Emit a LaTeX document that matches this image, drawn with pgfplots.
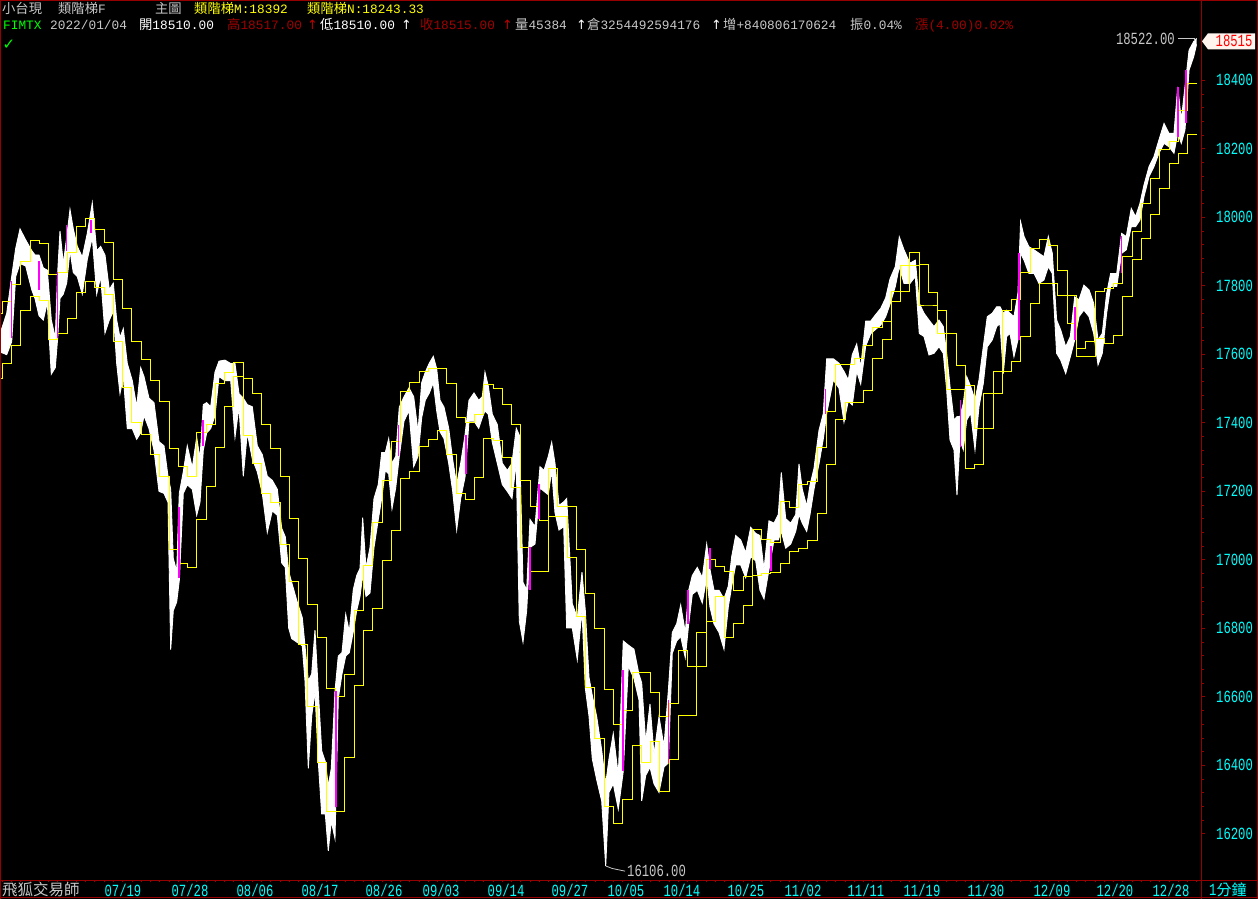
\documentclass[border=0pt]{standalone}
\usepackage{pgfplots}
\pgfplotsset{compat=1.18}
\usepackage{pgfplotstable}
\usepgfplotslibrary{fillbetween}
\usepackage{fontspec}
\newfontfamily\cjk{Noto Sans CJK TC}
\newfontfamily\mono{Liberation Mono}
\newfontfamily\tallmono[FakeStretch=0.72]{Liberation Mono}
\newfontfamily\dejavu{DejaVu Sans}
\definecolor{framered}{RGB}{150,0,0}
\definecolor{cyanlbl}{RGB}{0,255,255}
\definecolor{darkred}{RGB}{160,0,0}
\definecolor{arrowred}{RGB}{190,0,0}
\definecolor{silver}{RGB}{200,200,200}
\definecolor{mag}{RGB}{255,0,255}
\definecolor{ylw}{RGB}{255,255,0}
\definecolor{grn}{RGB}{0,255,0}
\definecolor{tagfill}{RGB}{255,244,238}
\pagecolor{black}
\newcommand{\m}{\fontsize{12.8bp}{14bp}\selectfont\mono}
\newcommand{\cf}{\fontsize{13.3bp}{14bp}\selectfont\cjk}
\newcommand{\tf}{\fontsize{17bp}{18bp}\selectfont\tallmono}
\newcommand{\ar}{\fontsize{12.8bp}{14bp}\selectfont\dejavu ↑}
\newcommand{\hd}[4]{\node[anchor=base west, inner sep=0pt, text=#3] at (#1,#2) {#4};}

\pgfplotstableread{
px hi lo
0 17665 17605
1.7 17675 17605
6.7 17719 17599
11.7 17827 17637
15.7 17909 17827
20 17966 17865
25.7 17934 17858
31.7 17903 17789
35 17890 17763
39 17890 17713
43.3 17852 17700
47.3 17846 17751
51.3 17700 17542
55.3 17649 17561
57.7 17839 17649
60 17960 17763
63.3 17865 17776
66.7 17941 17808
70 18023 17903
73.3 17966 17839
77.3 17915 17827
82.3 17884 17776
87.3 17953 17877
92.3 18042 17941
96.7 17903 17776
100.7 17915 17827
105 17890 17662
109.3 17789 17700
113.3 17808 17725
116.7 17700 17573
120 17649 17485
123.3 17675 17535
127.3 17573 17383
132.3 17523 17383
136.7 17447 17352
140.7 17561 17371
144 17535 17421
149 17472 17383
154 17459 17320
159 17345 17200
164 17333 17194
168 17244 17168
170.7 17206 16738
173.3 17004 16852
176.7 16966 16877
179.3 17194 16940
183.3 17257 17194
187.3 17333 17219
192.3 17269 17206
196.7 17358 17130
200 17295 17168
203.3 17453 17320
206.7 17459 17371
210.7 17447 17383
215 17548 17421
219 17580 17535
225 17583 17523
230.7 17573 17523
235 17573 17358
239 17485 17447
243.3 17472 17244
247.3 17453 17371
252.3 17447 17295
257.3 17333 17257
262.3 17307 17194
267.3 17244 17080
272.3 17232 17143
277.3 17206 17130
281.7 17092 16991
285.3 17067 16978
288.7 16966 16801
291.7 16934 16770
296.7 16882 16760
302.3 16831 16749
305 16749 16647
308.3 16647 16391
311.7 16667 16544
315 16795 16616
318.3 16616 16411
321.7 16442 16258
325.3 16411 16258
328.3 16340 16150
331.3 16391 16237
335 16616 16186
338.3 16719 16596
342 16729 16667
345.7 16841 16719
349.3 16790 16729
353.3 16913 16790
356.7 16954 16852
360 16975 16893
362.7 17123 16954
366 16975 16893
370 17036 16903
374 17179 17036
378.3 17220 17118
381.7 17313 17179
385.3 17313 17261
388.7 17354 17251
392 17282 17149
395.7 17302 17210
399.3 17446 17302
404 17476 17405
409 17502 17435
413.7 17476 17272
418 17374 17302
421.7 17517 17415
425.3 17548 17466
429.3 17574 17487
433.3 17594 17517
436.7 17558 17435
440 17466 17374
444 17446 17354
448.7 17384 17282
452.7 17292 17200
456.7 17220 17087
460.7 17282 17179
465 17364 17241
469 17466 17405
474 17487 17405
478.7 17466 17384
482.3 17476 17415
485 17548 17435
488.3 17507 17425
492.3 17425 17343
497.3 17395 17282
502.3 17282 17220
507.3 17261 17200
512 17282 17179
516.3 17384 17282
519.3 17364 16821
523 16934 16760
526.7 16913 16852
530 17118 17036
535 17097 17046
540 17272 17210
544 17261 17200
548.3 17302 17190
551.7 17343 17261
555 17282 17138
559 17159 17087
563.7 17169 17097
566.7 17179 16801
572.3 16872 16801
577.3 16831 16708
582 16964 16852
585.3 16852 16626
589 16657 16544
592.3 16604 16419
596.7 16542 16358
601.7 16444 16296
605.7 16346 16106
609 16419 16321
613.3 16493 16346
618.3 16370 16272
623.3 16763 16383
628.3 16751 16690
634 16739 16653
639 16665 16591
641.7 16641 16296
645.7 16468 16370
650 16579 16395
654 16432 16346
659 16542 16321
664 16456 16395
668.3 16616 16407
672.3 16788 16727
676.7 16813 16763
680.7 16868 16776
685.3 16788 16714
688.7 16911 16813
692.3 16954 16899
697.3 16978 16911
702.3 16948 16874
706.7 17046 16948
710 16972 16862
714 16911 16813
719 16911 16788
724 16886 16739
728.3 16923 16862
731.7 17009 16923
735.7 17071 16985
740.7 17058 16985
745.7 17021 16948
750.7 17095 17009
755.7 17077 16997
760 17071 16911
764 16972 16886
769 17114 16972
774 17107 17058
778.3 17132 17058
781.3 17255 17083
785.7 17120 17034
790.7 17107 17046
795.7 17132 17083
799 17280 17132
802.3 17206 17107
806.7 17157 17083
810 17218 17132
814 17267 17206
819 17378 17280
823.3 17427 17353
826.7 17587 17427
833.3 17587 17525
839 17574 17501
844 17550 17402
848.3 17525 17464
852.3 17599 17452
856.7 17630 17550
860.7 17562 17513
865.7 17697 17624
870.7 17697 17660
875.7 17716 17673
880.7 17734 17685
885.7 17765 17710
890 17820 17746
895.3 17856 17798
899.3 17943 17856
904 17905 17807
910 17866 17807
915.3 17875 17827
919.3 17749 17661
924 17720 17652
929 17700 17598
934 17681 17603
939 17700 17622
943.3 17681 17603
946.7 17603 17496
950 17506 17350
954 17408 17321
957 17418 17189
960 17418 17350
963.3 17457 17321
966.7 17535 17408
970.7 17506 17428
975 17467 17321
979 17525 17447
983.3 17622 17515
987.3 17710 17622
992.3 17720 17642
996.7 17739 17681
1000 17739 17690
1003.3 17720 17544
1006.7 17729 17652
1010 17720 17661
1014 17710 17593
1018 17778 17642
1020.7 17987 17895
1024 17944 17875
1029 17914 17836
1034 17905 17836
1039 17895 17807
1044 17885 17817
1048.3 17944 17856
1052.3 17895 17836
1056.7 17700 17603
1060.7 17671 17583
1065.7 17622 17544
1070.3 17652 17593
1074.7 17768 17642
1079 17759 17710
1084 17802 17729
1089 17788 17710
1093.7 17749 17661
1098 17642 17569
1102.3 17661 17603
1106.7 17778 17720
1110.7 17836 17798
1116.7 17836 17798
1121.7 17953 17895
1126.3 17944 17905
1131.3 18026 17973
1135.7 18002 17973
1140 18041 17992
1144 18094 18060
1149 18148 18119
1154 18177 18148
1159 18226 18187
1164 18274 18216
1169 18245 18206
1174 18245 18187
1177.7 18381 18245
1181.3 18284 18216
1185 18381 18255
1189 18488 18430
1193.7 18513 18469
1196.5 18522 18505
}\band

\pgfplotstableread{
d hi lo
-1 17719 17529
0 17754 17573
1 17804 17627
2 17871 17728
3 17932 17770
4 17924 17756
5 17833 17643
6 17839 17662
7 17896 17706
8 17972 17780
9 17998 17814
10 17966 17795
11 17928 17776
12 17820 17637
13 17735 17504
14 17639 17402
15 17586 17367
16 17523 17307
17 17463 17244
18 17324 17031
19 17274 16988
20 17244 16978
21 17371 17118
22 17396 17214
23 17516 17328
24 17548 17449
25 17576 17535
26 17529 17364
27 17485 17282
28 17395 17194
29 17325 17168
30 17242 17045
31 17121 16937
32 17004 16754
33 16871 16572
34 16774 16409
35 16625 16266
36 16601 16266
37 16665 16422
38 16852 16634
39 16985 16794
40 17110 16859
41 17231 16998
42 17345 17086
43 17492 17238
44 17517 17258
45 17550 17331
46 17560 17351
47 17560 17379
48 17515 17307
49 17417 17195
50 17400 17176
51 17425 17241
52 17512 17355
53 17499 17348
54 17454 17299
55 17395 17212
56 17233 17036
57 17156 16966
58 17115 16966
59 17266 17128
60 17156 17128
61 17156 17007
62 17031 16836
63 16902 16628
64 16800 16478
65 16622 16281
66 16518 16231
67 16561 16299
68 16671 16459
69 16671 16407
70 16614 16469
71 16542 16324
72 16580 16417
73 16736 16545
74 16690 16545
75 16788 16690
76 17000 16821
77 16982 16892
78 16965 16772
79 16911 16815
80 16950 16868
81 17089 16954
82 17060 16960
83 17050 16962
84 17171 16990
85 17153 17025
86 17221 17034
87 17230 17058
88 17329 17136
89 17433 17279
90 17571 17411
91 17571 17460
92 17589 17460
93 17627 17495
94 17679 17587
95 17697 17644
96 17783 17754
97 17858 17783
98 17898 17858
99 17863 17744
100 17781 17744
101 17729 17661
102 17661 17498
103 17568 17498
104 17510 17267
105 17384 17277
106 17486 17384
107 17549 17486
108 17729 17549
109 17759 17579
110 17839 17651
111 17909 17749
112 17936 17807
113 17919 17807
114 17844 17773
115 17773 17690
116 17617 17593
117 17637 17593
118 17783 17647
119 17793 17632
120 17807 17656
121 17887 17770
122 17958 17877
123 18041 17939
124 18114 18007
125 18197 18085
126 18221 18156
127 18313 18187
128 18392 18243
129 18392 18243
}\steps

\pgfplotstableread{
px p
11.7 17649
11.7 17814
11.7 nan
39.3 17789
39.3 17871
39.3 nan
57.7 17649
57.7 17839
57.7 nan
66.7 17903
66.7 17979
66.7 nan
91.3 17953
91.3 17991
91.3 nan
179 16947
179 17155
179 nan
203.3 17333
203.3 17409
203.3 nan
335.7 16278
335.7 16616
335.7 nan
398.7 17302
398.7 17395
398.7 nan
466 17251
466 17364
466 nan
530 16913
530 17036
530 nan
539 17118
539 17220
539 nan
623.3 16383
623.3 16677
623.3 nan
668.7 16407
668.7 16591
668.7 nan
688.3 16813
688.3 16911
688.3 nan
710 16972
710 17034
710 nan
771 16966
771 17040
771 nan
825.7 17427
825.7 17500
825.7 nan
960.7 17330
960.7 17467
960.7 nan
1019 17642
1019 17895
1019 nan
1075 17642
1075 17739
1075 nan
1121.7 17836
1121.7 17944
1121.7 nan
1178 18235
1178 18381
1178 nan
1186.3 18274
1186.3 18430
}\magt

\begin{document}
\begin{tikzpicture}[x=1bp,y=1bp]
\begin{axis}[
  name=ax,
  width=1201bp, height=880bp, scale only axis,
  xmin=-0.248, xmax=129.45, ymin=16065.2, ymax=18634.5,
  axis line style={draw=framered, line width=1bp},
  clip=true,
  ytick={16200,16400,...,18400},
  minor y tick num=4,
  ytick pos=right, yticklabel pos=right,
  xtick pos=bottom,
  xtick={13.03,20.27,27.29,34.31,41.22,47.38,54.4,61.3,67.35,73.4,80.3,86.47,93.27,99.32,106.23,113.36,120.16,126.21},
  xticklabels={07/19,07/28,08/06,08/17,08/26,09/03,09/14,09/27,10/05,10/14,10/25,11/02,11/11,11/19,11/30,12/09,12/20,12/28},
  minor xtick={0,1,...,129},
  major x tick style={draw=none},
  tick style={draw=framered, line width=0.8bp},
  major tick length=4bp, minor tick length=2.5bp,
  tick align=outside,
  scaled y ticks=false,
  /pgf/number format/1000 sep={},
  /pgf/number format/assume math mode=true,
  yticklabel style={font=\tf, text=cyanlbl, anchor=base west, inner sep=0pt, xshift=11bp, yshift=-5.5bp},
  xticklabel style={font=\tf, text=cyanlbl, anchor=base, inner sep=0pt, yshift=-12bp},
]
\addplot[name path=bh, white, line width=0.9bp] table[x expr=(\thisrow{px}-2.3)/9.26, y=hi]{\band};
\addplot[name path=bl, white, line width=0.9bp] table[x expr=(\thisrow{px}-2.3)/9.26, y=lo]{\band};
\addplot[white] fill between[of=bh and bl];
\addplot[ylw, line width=0.9bp, const plot] table[x=d, y=hi]{\steps};
\addplot[ylw, line width=0.9bp, const plot] table[x=d, y=lo]{\steps};
\addplot[mag, line width=1.6bp, unbounded coords=jump] table[x expr=(\thisrow{px}-2.3)/9.26, y=p]{\magt};
\draw[silver, line width=0.8bp] (axis cs:126.97,18522) -- (axis cs:128.75,18522) -- (axis cs:128.75,18515);
\node[anchor=base east, inner sep=0pt, text=silver, font=\tf, yshift=-5.5bp] at (axis cs:126.64,18522) {18522.00};
\draw[silver, line width=0.8bp] (axis cs:65.19,16106) -- (axis cs:65.85,16099) -- (axis cs:67.25,16091);
\node[anchor=base west, inner sep=0pt, text=silver, font=\tf, yshift=-5.5bp] at (axis cs:67.46,16091) {16106.00};
\coordinate (O) at (rel axis cs:0,0);
\end{axis}
\begin{scope}[shift={(O)}, yshift=-19bp]
% frame
\draw[framered, line width=1bp] (0,898.5) -- (1258,898.5);
\draw[framered, line width=1bp] (0.5,0) -- (0.5,899);
\draw[framered, line width=1bp] (1201,0) -- (1201,899);
\draw[framered, line width=1bp] (1257,0) -- (1257,899);
\draw[framered, line width=1bp] (0,19) -- (1258,19);
\draw[framered, line width=1bp] (0,1.5) -- (1258,1.5);
% header line 1
\hd{2}{885.5}{silver}{\cf 小台現}
\hd{58}{885.5}{silver}{\cf 類階梯\m F}
\hd{155}{885.5}{silver}{\cf 主圖}
\hd{194}{885.5}{ylw}{\cf 類階梯\m M:18392}
\hd{307}{885.5}{ylw}{\cf 類階梯\m N:18243.33}
% header line 2
\hd{3}{869.7}{grn}{\m FIMTX}
\hd{50}{869.7}{silver}{\m 2022/01/04}
\hd{139}{869.7}{white}{\cf 開\m 18510.00}
\hd{227}{869.7}{darkred}{\cf 高\m 18517.00}
\hd{307}{869.7}{arrowred}{\ar}
\hd{320}{869.7}{white}{\cf 低\m 18510.00}
\hd{401}{869.7}{white}{\ar}
\hd{420}{869.7}{darkred}{\cf 收\m 18515.00}
\hd{502}{869.7}{arrowred}{\ar}
\hd{515}{869.7}{silver}{\cf 量\m 45384}
\hd{576}{869.7}{white}{\ar}
\hd{587}{869.7}{silver}{\cf 倉\m 3254492594176}
\hd{711}{869.7}{white}{\ar}
\hd{723}{869.7}{silver}{\cf 增\m +840806170624}
\hd{850}{869.7}{silver}{\cf 振\m 0.04\%}
\hd{915}{869.7}{darkred}{\cf 漲\m (4.00)0.02\%}
\node[text=grn, inner sep=0pt, font={\fontsize{15bp}{15bp}\selectfont\dejavu}] at (9,854) {✓};
% price tag
\fill[tagfill] (1202,857.7) -- (1208,865.7) -- (1255,865.7) -- (1255,849.7) -- (1208,849.7) -- cycle;
\node[anchor=base west, inner sep=0pt, text=red, font=\tf] at (1215.5,852) {18515};
% bottom row
\node[anchor=base west, inner sep=0pt, text=silver] at (2,4) {\fontsize{15.5bp}{16bp}\selectfont\cjk 飛狐交易師};
\node[anchor=base west, inner sep=0pt, text=cyanlbl] at (1209,4) {\tf 1\fontsize{15bp}{16bp}\selectfont\cjk 分鐘};
\end{scope}
\pgfresetboundingbox
\useasboundingbox ([yshift=-19bp]O) rectangle ([xshift=1258bp,yshift=880bp]O);
\end{tikzpicture}
\end{document}
